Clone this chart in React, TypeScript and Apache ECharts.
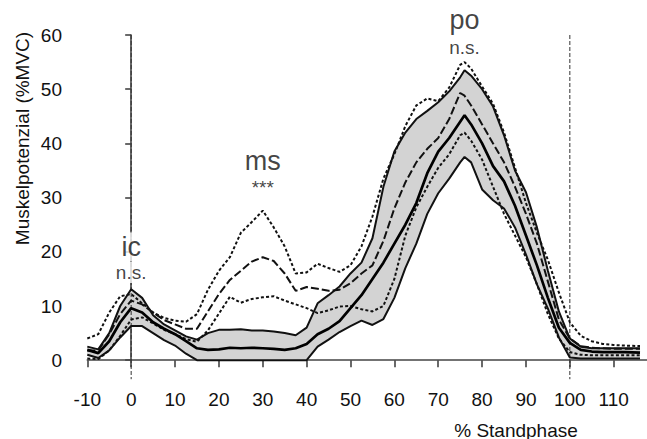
import React, { useEffect, useRef } from "react";
import * as echarts from "echarts";

// % stance phase sample points
const phase = [-10, -7.5, -5, -2.5, 0, 2.5, 5, 7.5, 10, 12.5, 15, 17.5, 20, 22.5, 25, 27.5, 30, 32.5, 35, 37.5, 40, 42.5, 45, 47.5, 50, 52.5, 55, 57.5, 60, 62.5, 65, 67.5, 70, 72.5, 75, 76, 77.5, 80, 82.5, 85, 87.5, 90, 92.5, 95, 97.5, 100, 102.5, 105, 107.5, 110, 112.5, 116];

// group 1 (solid, shaded band = mean ± SD)
const g1Upper = [2.5, 2.0, 5.0, 10.0, 13.1, 11.5, 8.3, 6.6, 5.5, 4.4, 3.8, 5.0, 5.6, 5.6, 5.7, 5.5, 5.5, 5.3, 5.0, 4.6, 6.0, 10.5, 12.0, 13.6, 16.0, 18.0, 22.5, 32.0, 38.5, 42.0, 44.5, 46.0, 47.6, 49.6, 52.2, 53.5, 52.5, 50.0, 46.8, 41.5, 35.0, 31.0, 24.5, 16.5, 9.0, 4.0, 2.5, 2.2, 2.2, 2.2, 2.2, 2.2];
const g1Mean = [1.9, 1.3, 3.5, 7.0, 9.6, 8.8, 7.0, 5.8, 4.8, 3.5, 2.2, 1.9, 2.0, 2.3, 2.2, 2.3, 2.2, 2.1, 1.9, 2.2, 3.0, 4.8, 5.8, 7.2, 9.6, 12.0, 15.0, 18.0, 21.5, 25.0, 29.0, 34.5, 38.5, 41.0, 44.0, 45.2, 43.5, 40.0, 35.8, 33.0, 28.5, 23.0, 17.5, 11.5, 6.0, 3.2, 1.9, 1.6, 1.5, 1.5, 1.5, 1.4];
const g1Lower = [1.0, 0.4, 1.8, 4.2, 6.3, 6.3, 5.0, 3.7, 2.7, 1.2, 0, 0, 0, 0, 0, 0, 0, 0, 0, 0, 0, 2.5, 3.8, 5.2, 6.3, 7.3, 6.5, 7.6, 11.5, 17.0, 21.5, 27.0, 30.8, 33.5, 36.5, 37.5, 36.5, 31.5, 29.5, 28.0, 24.5, 19.5, 14.0, 9.5, 4.2, 0.5, 0.3, 0.3, 0.3, 0.3, 0.3, 0.3];

// group 2 (dashed mean, dotted ± SD)
const g2Upper = [4.0, 4.8, 8.8, 11.8, 12.2, 10.5, 8.8, 7.8, 7.3, 7.1, 8.5, 13.0, 16.5, 19.0, 23.5, 25.5, 27.6, 24.5, 21.0, 16.0, 16.2, 17.8, 17.0, 16.3, 17.5, 21.0, 26.5, 33.5, 38.0, 43.2, 47.0, 48.3, 47.8, 50.3, 54.5, 55.0, 53.8, 50.5, 47.3, 42.0, 35.5, 29.0, 23.5, 18.5, 12.5, 7.0, 4.5, 3.5, 3.0, 2.8, 2.7, 2.6];
const g2Mean = [1.8, 1.8, 4.8, 8.5, 11.0, 10.3, 8.8, 7.4, 6.6, 5.8, 5.8, 9.0, 12.2, 14.8, 16.5, 18.2, 19.0, 18.3, 16.0, 12.8, 13.5, 13.2, 12.8, 13.0, 14.2, 16.0, 17.5, 22.0, 28.0, 32.8, 36.5, 39.0, 41.0, 44.5, 49.3, 48.8, 47.0, 43.5, 40.0, 36.5, 32.0, 27.0, 21.5, 14.5, 7.5, 4.0, 2.6, 2.3, 2.2, 2.1, 2.1, 2.1];
const g2Lower = [0.3, 0.2, 1.8, 4.5, 7.5, 7.9, 6.8, 5.6, 4.8, 3.9, 3.4, 5.5, 8.6, 11.7, 10.6, 11.3, 11.6, 11.8, 11.0, 10.3, 9.6, 8.7, 9.2, 9.9, 10.0, 9.4, 9.0, 10.0, 15.0, 23.0, 28.2, 32.0, 35.5, 38.0, 41.5, 42.0, 40.5, 37.0, 32.0, 27.0, 23.0, 19.0, 14.0, 8.5, 4.0, 1.5, 1.0, 0.9, 0.9, 0.9, 0.9, 0.9];

const xTicks = [-10, 0, 10, 20, 30, 40, 50, 60, 70, 80, 90, 100, 110];
const yTicks = [0, 10, 20, 30, 40, 50, 60];
const eventLines = [0, 100];

const annotations = [
  { text: "ic", x: 0, y: 20.9, big: true, cover: true },
  { text: "n.s.", x: 0, y: 16.2, big: false, cover: true },
  { text: "ms", x: 30, y: 36.7, big: true, cover: false },
  { text: "***", x: 30, y: 31.8, big: false, cover: false },
  { text: "po", x: 76, y: 62.7, big: true, cover: false },
  { text: "n.s.", x: 76, y: 57.7, big: false, cover: false },
];

const FONT = "'Liberation Sans', Arial, Helvetica, sans-serif";

const GRID_TOP = 35;
const GRID_HEIGHT = 325.2;
const X_OFFSET = 19;

export default function App() {
  const ref = useRef<HTMLDivElement>(null);

  useEffect(() => {
    if (!ref.current) return;
    const chart = echarts.init(ref.current, undefined, { renderer: "svg" });
    const zip = (ys: number[]) => phase.map((x, i) => [x, ys[i]]);
    const yMin = yTicks[0];
    const yMax = yTicks[yTicks.length - 1];
    const yBottom = yMin - X_OFFSET / (GRID_HEIGHT / (yMax - yMin));

    const lineBase = {
      type: "line" as const,
      symbol: "none",
      silent: true,
      clip: false,
      smooth: false,
    };

    const series: any[] = [
      {
        type: "custom",
        name: "band",
        silent: true,
        clip: false,
        z: 1,
        data: [[phase[0], g1Lower[0]]],
        renderItem: (_params: any, api: any) => {
          const pts: number[][] = [];
          for (let i = 0; i < phase.length; i++) pts.push(api.coord([phase[i], g1Upper[i]]));
          for (let i = phase.length - 1; i >= 0; i--) pts.push(api.coord([phase[i], g1Lower[i]]));
          return {
            type: "polygon",
            shape: { points: pts },
            style: { fill: "#d3d3d3", stroke: "none" },
          };
        },
      },
      ...eventLines.map((ev) => ({
        ...lineBase,
        name: "event" + ev,
        data: [
          [ev, yMax],
          [ev, yBottom],
        ],
        lineStyle: { color: "#333", width: 1, type: [4, 2] },
        z: 2,
      })),
      {
        ...lineBase,
        name: "g2Upper",
        data: zip(g2Upper),
        lineStyle: { color: "#111", width: 2, type: [3, 2.2] },
        z: 3,
      },
      {
        ...lineBase,
        name: "g2Lower",
        data: zip(g2Lower),
        lineStyle: { color: "#111", width: 2, type: [3, 2.2] },
        z: 3,
      },
      {
        ...lineBase,
        name: "g2Mean",
        data: zip(g2Mean),
        lineStyle: { color: "#111", width: 2, type: [8, 3] },
        z: 3,
      },
      {
        ...lineBase,
        name: "g1Upper",
        data: zip(g1Upper),
        lineStyle: { color: "#111", width: 2 },
        z: 4,
      },
      {
        ...lineBase,
        name: "g1Lower",
        data: zip(g1Lower),
        lineStyle: { color: "#111", width: 2 },
        z: 4,
      },
      {
        ...lineBase,
        name: "g1Mean",
        data: zip(g1Mean),
        lineStyle: { color: "#000", width: 2.7 },
        z: 4,
      },
      {
        type: "scatter",
        name: "labels",
        clip: false,
        silent: true,
        symbolSize: 0,
        z: 6,
        data: annotations.map((a) => ({
          value: [a.x, a.y],
          label: {
            show: true,
            position: "inside",
            formatter: a.text,
            fontFamily: FONT,
            fontSize: a.big ? 27 : 19,
            color: "#111",
            backgroundColor: a.cover ? "#fff" : "transparent",
            padding: a.cover ? [1, 3] : 0,
          },
        })),
      },
    ];

    const axisColor = "#444";
    chart.setOption({
      animation: false,
      backgroundColor: "#fff",
      grid: {
        left: 87.3,
        right: 0.4,
        top: GRID_TOP,
        height: GRID_HEIGHT,
        containLabel: false,
      },
      xAxis: {
        type: "value",
        min: -10,
        max: 117.5,
        position: "bottom",
        offset: X_OFFSET,
        axisLine: { show: true, lineStyle: { color: axisColor, width: 1.6 } },
        axisTick: {
          show: true,
          length: 7,
          inside: false,
          customValues: xTicks,
          lineStyle: { color: axisColor, width: 1.6 },
        },
        axisLabel: {
          customValues: xTicks,
          fontFamily: FONT,
          fontSize: 19,
          color: "#111",
          margin: 11,
        },
        splitLine: { show: false },
      },
      yAxis: {
        type: "value",
        min: yMin,
        max: yMax,
        interval: 10,
        offset: 16.3,
        axisLine: { show: true, lineStyle: { color: axisColor, width: 1.6 } },
        axisTick: {
          show: true,
          length: 6,
          inside: false,
          lineStyle: { color: axisColor, width: 1.6 },
        },
        axisLabel: {
          fontFamily: FONT,
          fontSize: 19,
          color: "#111",
          margin: 9,
        },
        splitLine: { show: false },
      },
      graphic: [
        {
          type: "text",
          x: 22,
          y: 138.5,
          rotation: Math.PI / 2,
          style: {
            text: "Muskelpotenzial (%MVC)",
            fontFamily: FONT,
            fontSize: 19,
            fill: "#111",
            align: "center",
            verticalAlign: "middle",
          },
        },
        {
          type: "text",
          x: 516,
          y: 430,
          style: {
            text: "% Standphase",
            fontFamily: FONT,
            fontSize: 19,
            fill: "#111",
            align: "center",
            verticalAlign: "middle",
          },
        },
      ],
      series,
    });

    return () => chart.dispose();
  }, []);

  return (
    <div
      ref={ref}
      style={{ position: "fixed", left: 0, top: 0, width: 647, height: 439 }}
    />
  );
}
